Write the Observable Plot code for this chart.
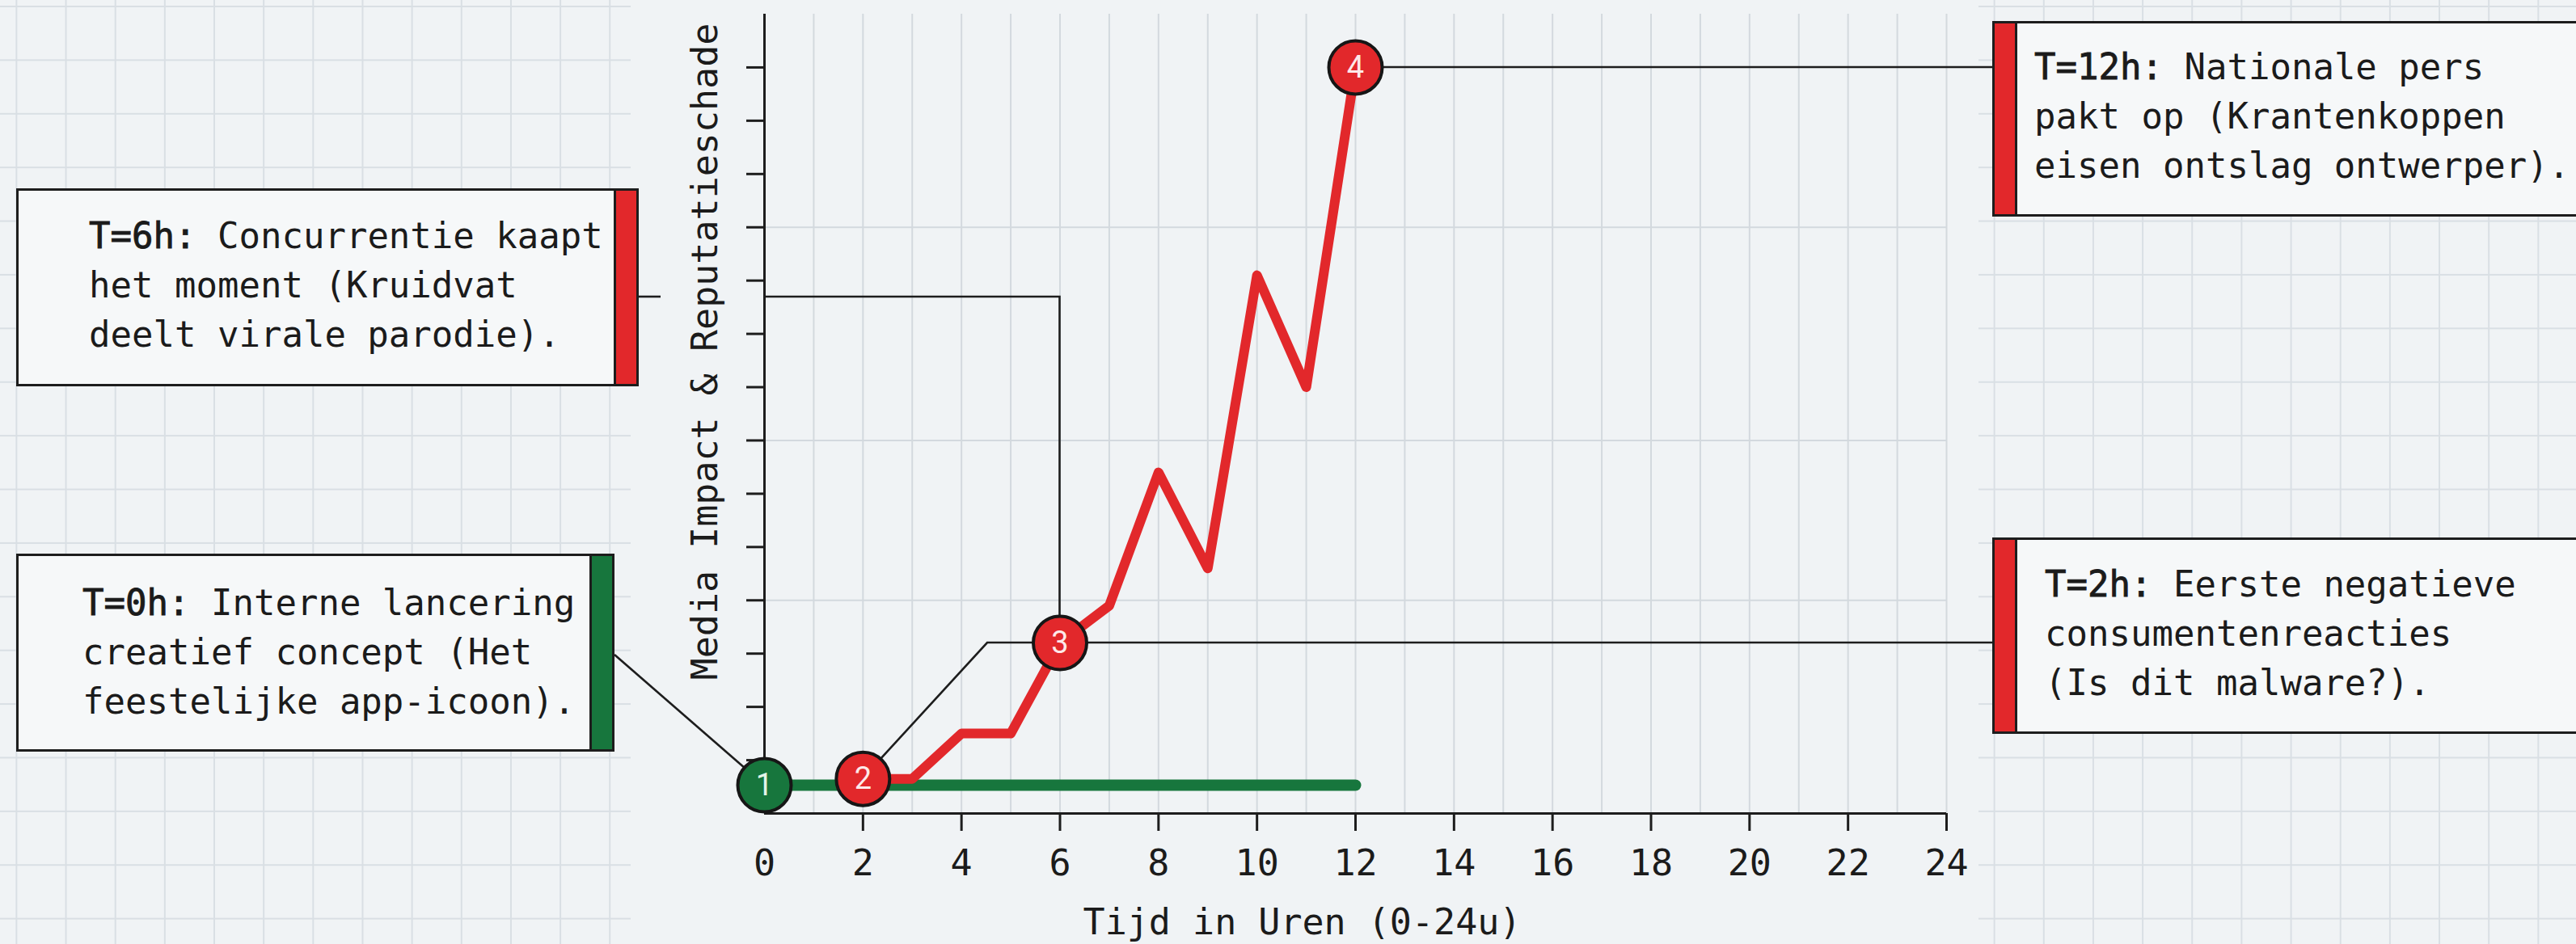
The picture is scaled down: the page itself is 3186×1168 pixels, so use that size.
<!DOCTYPE html>
<html>
<head>
<meta charset="utf-8">
<script src="https://cdn.jsdelivr.net/npm/d3@7"></script>
<script src="https://cdn.jsdelivr.net/npm/@observablehq/plot@0.6"></script>
<style>
  html, body { margin: 0; padding: 0; }
  body { width: 3186px; height: 1168px; overflow: hidden; background: #f0f3f5; }
  #page {
    position: relative; width: 3186px; height: 1168px; overflow: hidden;
    background-color: #f0f3f5;
    background-image:
      linear-gradient(to right, #d9dfe4 2px, transparent 2px),
      linear-gradient(to bottom, #d9dfe4 2px, transparent 2px);
    background-size: 61.17px 66.4px;
    background-position: 19.4px 7px;
  }
  #panel { position: absolute; left: 780px; top: 0; width: 1667px; height: 1168px; background: #f0f3f5; }
  #chart { position: absolute; left: 0; top: 0; }
  .box {
    position: absolute; box-sizing: border-box;
    border: 3px solid #1d1d1d; background: #f6f8f9;
    font-family: "DejaVu Sans Mono", monospace; font-size: 44px; line-height: 61px;
    color: #1b1b1b; white-space: nowrap;
  }
  .box .bar { position: absolute; top: 0; bottom: 0; width: 25px; }
  .box .txt { position: absolute; }
  .box b { font-weight: normal; -webkit-text-stroke: 0.9px #1b1b1b; }
</style>
</head>
<body>
<div id="page">
  <div id="panel"></div>
  <div id="chart"></div>
</div>
<script>
// ---------------- data ----------------
const crisisHours  = [2, 3, 4, 5, 6, 7, 8, 9, 10, 11, 12];
const crisisImpact = [0.65, 0.65, 1.5, 1.5, 3.2, 3.9, 6.4, 4.6, 10.1, 8.0, 14];

const internalHours  = [0, 12];
const internalImpact = [0.53, 0.53];

const milestoneIds    = ["1", "2", "3", "4"];
const milestoneHours  = [0, 2, 6, 12];
const milestoneImpact = [0.53, 0.65, 3.2, 14];
const milestoneKind   = ["intern", "crisis", "crisis", "crisis"];

const xTicks = [0, 2, 4, 6, 8, 10, 12, 14, 16, 18, 20, 22, 24];
const yTicks = [1, 2, 3, 4, 5, 6, 7, 8, 9, 10, 11, 12, 13, 14];
const yGrid  = [4, 7, 11];

const xLabel = "Tijd in Uren (0-24u)";
const yLabel = "Media Impact & Reputatieschade";

const eventTags  = ["T=6h:", "T=0h:", "T=12h:", "T=2h:"];
const eventLines = [
  [" Concurrentie kaapt", "het moment (Kruidvat", "deelt virale parodie)."],
  [" Interne lancering", "creatief concept (Het", "feestelijke app-icoon)."],
  [" Nationale pers", "pakt op (Krantenkoppen", "eisen ontslag ontwerper)."],
  [" Eerste negatieve", "consumentenreacties", "(Is dit malware?)."]
];
const eventMilestone = [2, 0, 3, 1]; // index into milestones

// ---------------- styling / layout ----------------
const RED = "#e2282b", GREEN = "#17763d", INK = "#1d1d1d";
const kindColor = {intern: GREEN, crisis: RED};
const boxLayout = [
  {left: 20,   top: 233, width: 770, height: 245, bar: "right", tx: 87, ty: 25},
  {left: 20,   top: 685, width: 740, height: 245, bar: "right", tx: 79, ty: 27},
  {left: 2464, top: 26,  width: 800, height: 242, bar: "left",  tx: 49, ty: 23},
  {left: 2464, top: 665, width: 800, height: 243, bar: "left",  tx: 62, ty: 24}
];

const crisis = crisisHours.map((h, i) => ({h, v: crisisImpact[i]}));
const internal = internalHours.map((h, i) => ({h, v: internalImpact[i]}));
const milestones = milestoneIds.map((id, i) => ({id, h: milestoneHours[i], v: milestoneImpact[i], kind: milestoneKind[i]}));

const plot = Plot.plot({
  width: 3186, height: 1168,
  marginLeft: 945, marginRight: 779, marginTop: 17, marginBottom: 162,
  x: {domain: [0, 24]},
  y: {domain: [0, 15]},
  style: {background: "transparent", fontFamily: "DejaVu Sans Mono", fontSize: "45px", color: "#1b1b1b", overflow: "visible"},
  marks: [
    Plot.ruleX(d3.range(0, 25), {stroke: "#d3d9de", strokeWidth: 2}),
    Plot.ruleY(yGrid, {stroke: "#d3d9de", strokeWidth: 2}),
    Plot.axisX({ticks: xTicks.filter(d => d > 0), tickSize: 22, tickFormat: () => "", label: null, stroke: INK, strokeWidth: 3}),
    Plot.axisX({ticks: xTicks, tickSize: 0, tickPadding: 45, label: null}),
    Plot.axisY({ticks: yTicks, tickSize: 22, tickFormat: () => "", label: null, stroke: INK, strokeWidth: 3}),
    Plot.ruleY([0], {stroke: INK, strokeWidth: 3}),
    Plot.ruleX([0], {stroke: INK, strokeWidth: 3}),
    Plot.line(internal, {x: "h", y: "v", stroke: GREEN, strokeWidth: 14, strokeLinecap: "round"}),
    Plot.line(crisis, {x: "h", y: "v", stroke: RED, strokeWidth: 12, strokeLinejoin: "round", strokeLinecap: "round"}),
    Plot.dot(milestones, {x: "h", y: "v", r: 33, fill: d => kindColor[d.kind], stroke: "#161616", strokeWidth: 4}),
    Plot.text(milestones, {x: "h", y: "v", text: "id", fill: d => d.kind === "intern" ? "#e3f4e8" : "#fde9e9", fontFamily: "Roboto", fontSize: 38, lineAnchor: "middle"}),
    Plot.text([xLabel], {frameAnchor: "bottom", textAnchor: "middle", lineAnchor: "bottom", dx: -66, dy: 149}),
    Plot.text([yLabel], {frameAnchor: "left", textAnchor: "middle", lineAnchor: "middle", rotate: -90, dx: -73, dy: -77})
  ]
});
document.getElementById("chart").appendChild(plot);

// ---------------- connectors (leader lines from milestones to boxes) ----------------
const sx = plot.scale("x"), sy = plot.scale("y");
const X = v => sx.apply(v), Y = v => sy.apply(v);
const mpt = i => [X(milestones[i].h), Y(milestones[i].v)];
const B = boxLayout;
const connectors = [
  [mpt(0), [B[1].left + B[1].width, B[1].top + 125]],
  [mpt(1), [1221, Y(milestones[2].v)], [B[3].left, Y(milestones[2].v)]],
  [mpt(2), [X(milestones[2].h), 367], [X(0), 367]],
  [[817, 367], [B[0].left + B[0].width, 367]],
  [mpt(3), [B[2].left, Y(milestones[3].v)]]
];
const ns = "http://www.w3.org/2000/svg";
const g = document.createElementNS(ns, "g");
const line = d3.line();
for (const c of connectors) {
  const p = document.createElementNS(ns, "path");
  p.setAttribute("d", line(c));
  p.setAttribute("fill", "none");
  p.setAttribute("stroke", INK);
  p.setAttribute("stroke-width", 2.6);
  g.appendChild(p);
}
const dotG = plot.querySelector('g[aria-label="dot"]');
if (dotG) plot.insertBefore(g, dotG); else plot.appendChild(g);

// ---------------- annotation boxes ----------------
const page = document.getElementById("page");
boxLayout.forEach((L, i) => {
  const box = document.createElement("div");
  box.className = "box";
  Object.assign(box.style, {left: L.left + "px", top: L.top + "px", width: L.width + "px", height: L.height + "px"});
  const bar = document.createElement("div");
  bar.className = "bar";
  const col = milestones[eventMilestone[i]].kind === "intern" ? GREEN : RED;
  bar.style.background = col;
  bar.style[L.bar] = "0px";
  bar.style["border" + (L.bar === "right" ? "Left" : "Right")] = "3px solid " + INK;
  box.appendChild(bar);
  const txt = document.createElement("div");
  txt.className = "txt";
  txt.style.left = L.tx + "px";
  txt.style.top = L.ty + "px";
  const lines = eventLines[i];
  const b = document.createElement("b");
  b.textContent = eventTags[i];
  txt.appendChild(b);
  txt.appendChild(document.createTextNode(lines[0]));
  for (let k = 1; k < lines.length; k++) {
    txt.appendChild(document.createElement("br"));
    txt.appendChild(document.createTextNode(lines[k]));
  }
  box.appendChild(txt);
  page.appendChild(box);
});
</script>
</body>
</html>
